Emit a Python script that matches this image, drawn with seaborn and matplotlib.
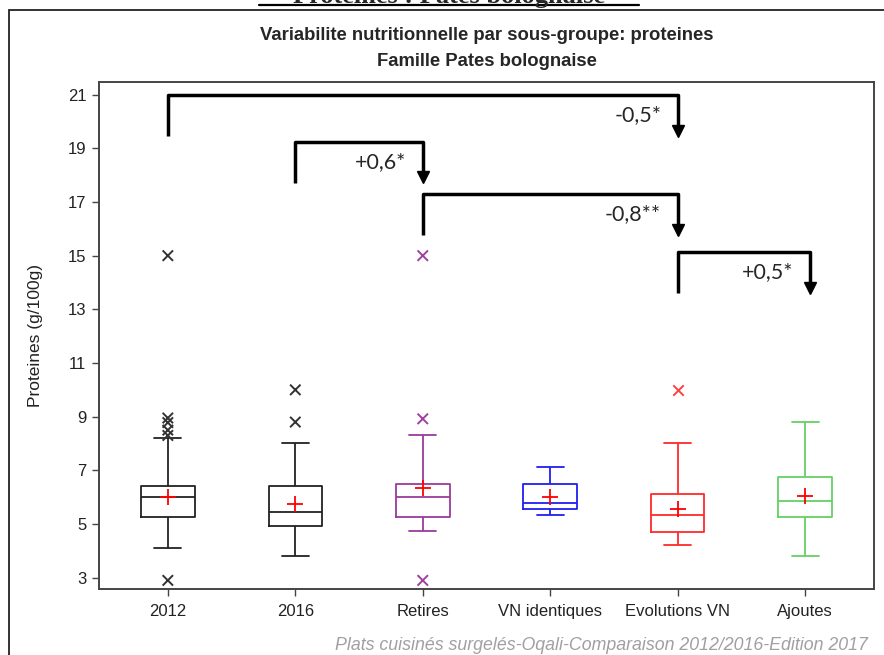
import numpy as np
import pandas as pd
import matplotlib.pyplot as plt
import seaborn as sns
from matplotlib.lines import Line2D
from matplotlib.patches import Rectangle

# --- data ---
groups = ["2012", "2016", "Retires", "VN identiques", "Evolutions VN", "Ajoutes"]
colors = ["#222222", "#222222", "#9B3A9B", "#1F1FF0", "#FF2A2A", "#66D066"]
flier_colors = ["#333333", "#333333", "#A040A0", "#1F1FF0", "#FF4040", "#66D066"]

whisk_low  = [4.10, 3.80, 4.73, 5.35, 4.22, 3.80]
q1         = [5.25, 4.93, 5.25, 5.55, 4.72, 5.25]
median     = [6.00, 5.44, 6.00, 5.80, 5.34, 5.86]
q3         = [6.42, 6.42, 6.50, 6.50, 6.10, 6.76]
whisk_high = [8.22, 8.02, 8.30, 7.12, 8.02, 8.80]
means      = [6.00, 5.75, 6.34, 6.00, 5.55, 6.06]

outlier_group = ["2012", "2012", "2012", "2012", "2012", "2012",
                 "2016", "2016", "Retires", "Retires", "Retires", "Evolutions VN"]
outlier_value = [2.9, 8.3, 8.5, 8.78, 8.95, 15.0,
                 8.8, 10.0, 2.9, 8.92, 15.0, 10.0]

# comparisons: (from group, to group, label)
comparisons = [
    ("2012", "Evolutions VN", "-0,5*"),
    ("2016", "Retires", "+0,6*"),
    ("Retires", "Evolutions VN", "-0,8**"),
    ("Evolutions VN", "Ajoutes", "+0,5*"),
]
bracket_top = [20.98, 19.24, 17.29, 15.13]

# long tables for seaborn
box_df = pd.DataFrame({
    "group": np.repeat(groups, 5),
    "value": np.column_stack([whisk_low, q1, median, q3, whisk_high]).ravel(),
})
out_df = pd.DataFrame({"group": outlier_group, "value": outlier_value})
mean_df = pd.DataFrame({"group": groups, "value": means})

pal = dict(zip(groups, colors))
fpal = dict(zip(groups, flier_colors))

sns.set_style("white")
plt.rcParams["font.family"] = ["Liberation Sans", "DejaVu Sans"]

fig = plt.figure(figsize=(8.84, 6.55), dpi=100)
ax = fig.add_axes([99 / 884, 1 - 588.7 / 655, (874 - 99) / 884, (588.7 - 82) / 655])

sns.boxplot(data=box_df, x="group", y="value", hue="group", order=groups,
            palette=pal, fill=False, width=0.42, whis=(0, 100),
            showfliers=False, linewidth=1.3, legend=False, ax=ax)
sns.stripplot(data=out_df, x="group", y="value", hue="group", order=groups,
              palette=fpal, marker="x", size=7.5, linewidth=1.4, jitter=False,
              legend=False, ax=ax, zorder=4)
sns.stripplot(data=mean_df, x="group", y="value", order=groups,
              color="#FF0000", marker="+", size=11, linewidth=1.3, jitter=False,
              legend=False, ax=ax, zorder=5)

ax.set_xlim(-0.54, 5.54)
ax.set_ylim(2.59, 21.47)
ax.set_yticks(np.arange(3, 22, 2))
ax.set_xlabel("")
ax.set_ylabel("Proteines (g/100g)", fontsize=12.5, labelpad=18, color="#222222")
ax.tick_params(axis="both", which="both", direction="out", length=5, width=1,
               color="#444444", labelsize=12, labelcolor="#222222", pad=4)
ax.tick_params(axis="x", pad=6)
ax.yaxis.set_ticks_position("left")
ax.xaxis.set_ticks_position("bottom")
for s in ax.spines.values():
    s.set_visible(True)
    s.set_color("#444444")
    s.set_linewidth(1.4)

# significance brackets
pos = {g: i for i, g in enumerate(groups)}
for (g1, g2, lab), top in zip(comparisons, bracket_top):
    x1, x2 = pos[g1], pos[g2] + (0.04 if g2 == "Ajoutes" else 0.0)
    low = top - 1.52
    ax.plot([x1, x1, x2, x2], [low, top, top, low + 0.35], color="black",
            lw=2.5, solid_joinstyle="round", solid_capstyle="butt",
            clip_on=False, zorder=6)
    ax.plot([x2], [low + 0.2], marker="v", color="black", markersize=9,
            clip_on=False, zorder=6)
    ax.text(x2 - 0.13, top - 0.75, lab, ha="right", va="center",
            fontsize=15.5, family=["Lato", "DejaVu Sans"], zorder=6)

# titles
fig.text(486.5 / 884, 1 - 36 / 655, "Variabilite nutritionnelle par sous-groupe: proteines",
         ha="center", va="center", fontsize=13.3, fontweight="bold",
         family=["Liberation Sans Narrow", "Liberation Sans"])
fig.text(486.5 / 884, 1 - 61 / 655, "Famille Pates bolognaise",
         ha="center", va="center", fontsize=13.3, fontweight="bold",
         family=["Liberation Sans Narrow", "Liberation Sans"])

# page header, cut at the top of the image as in the source page
fig.text(449 / 884, 1 - 3 / 655, "Proteines : Pates bolognaise",
         ha="center", va="baseline", fontsize=19, fontweight="bold",
         family=["Liberation Serif", "DejaVu Serif"])
fig.add_artist(Line2D([259 / 884, 639 / 884], [1 - 5 / 655, 1 - 5 / 655],
                      color="black", lw=1.6, transform=fig.transFigure))

# outer frame
fig.add_artist(Rectangle((9 / 884, -0.02), 1.0, 1 - 10 / 655 + 0.02, fill=False,
                         edgecolor="#222222", lw=1.3, transform=fig.transFigure))

# source
fig.text(868 / 884, 1 - 645 / 655,
         "Plats cuisinés surgelés-Oqali-Comparaison 2012/2016-Edition 2017",
         ha="right", va="center", fontsize=12.8, style="italic", color="#A0A0A0")

fig.savefig("out.png", dpi=100)
